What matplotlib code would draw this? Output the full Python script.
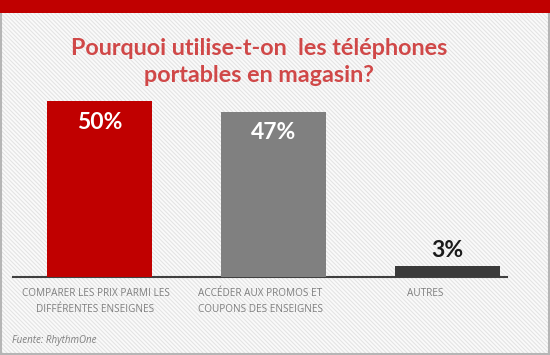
import matplotlib
matplotlib.use("Agg")
import matplotlib.pyplot as plt
import matplotlib.transforms as mtransforms
from matplotlib.patches import Rectangle

categories = ["COMPARER LES PRIX PARMI LES\nDIFFÉRENTES ENSEIGNES",
              "ACCÉDER AUX PROMOS ET\nCOUPONS DES ENSEIGNES",
              "AUTRES"]
values = [50, 47, 3]
value_labels = ["50%", "47%", "3%"]
colors = ["#c00000", "#808080", "#3a3a3a"]
title = "Pourquoi utilise-t-on  les téléphones\nportables en magasin?"
source = "Fuente: RhythmOne"

W, H = 550, 355
plt.rcParams["hatch.linewidth"] = 0.8
fig = plt.figure(figsize=(W/100, H/100), dpi=100)
fig.patch.set_facecolor("#fafafa")

# hatched background
bg = Rectangle((0, 0), 1, 1, transform=fig.transFigure, facecolor="#fafafa",
               edgecolor="#e4e4e4", hatch="\\\\\\\\\\\\\\\\", linewidth=0, zorder=-10)
fig.patches.append(bg)
# border
fig.patches.append(Rectangle((0.001, 0.002), 0.997, 0.995, transform=fig.transFigure,
                             fill=False, edgecolor="#b5b5b5", linewidth=1.5, zorder=5))
# red top strip
fig.patches.append(Rectangle((0, 1 - 13/H), 1, 13/H, transform=fig.transFigure,
                             facecolor="#c00000", edgecolor="none", zorder=6))

# axes: x from 13 to 507 px, baseline at y=277
ax_left, ax_right = 13/W, 507/W
ax_bottom = 1 - 277/H
ax_top = 1 - 101/H
ax = fig.add_axes([ax_left, ax_bottom, ax_right - ax_left, ax_top - ax_bottom])
ax.set_facecolor("none")
x = [0, 1, 2]
ax.bar(x, values, width=0.603, color=colors, zorder=3)
ax.set_xlim(-0.497, 2.342)
ax.set_ylim(0, 50)
for s in ["top", "right", "left"]:
    ax.spines[s].set_visible(False)
ax.spines["bottom"].set_color("#404040")
ax.spines["bottom"].set_linewidth(1.5)
ax.set_yticks([])
ax.set_xticks(x)
ax.set_xticklabels(categories, fontsize=7.2, color="#7f7f7f", family="Open Sans",
                   linespacing=1.55)
ax.tick_params(axis="x", length=0, pad=8)
offsets = [-4, -13, -22]
for lbl, dx in zip(ax.get_xticklabels(), offsets):
    lbl.set_transform(lbl.get_transform() + mtransforms.ScaledTranslation(dx/100, 0, fig.dpi_scale_trans))

for xi, v, lab in zip(x, values, value_labels):
    if v > 10:
        ax.text(xi, v - 3, lab, ha="center", va="top", color="white",
                fontsize=16.5, fontweight="bold", family="Lato")
    else:
        ax.text(xi, v + 1.5, lab, ha="center", va="bottom", color="#1a1a1a",
                fontsize=16.5, fontweight="bold", family="Lato")

fig.text(259/W, 1 - 62/H, title, ha="center", va="center", color="#d04848",
         fontsize=16.8, fontweight="bold", family="Lato", linespacing=1.35)
fig.text(12/W, 1 - 340/H, source, ha="left", va="center", color="#7f7f7f",
         fontsize=7, style="italic", family="Open Sans")

fig.savefig("out.png", dpi=100, facecolor=fig.get_facecolor())
